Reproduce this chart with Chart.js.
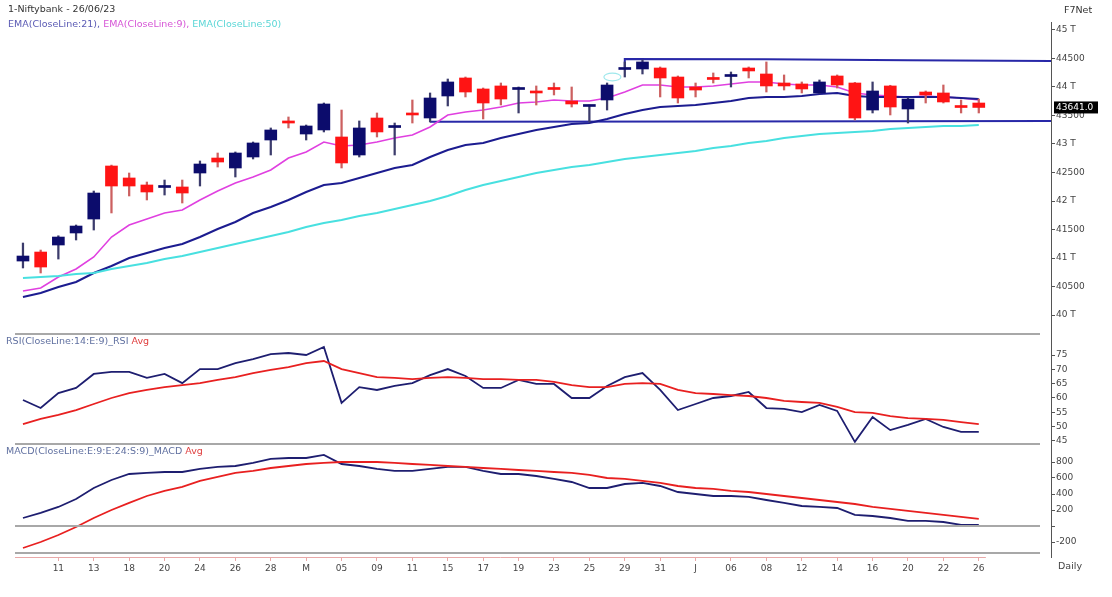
<!DOCTYPE html>
<html>
<head>
<meta charset="utf-8">
<script src="https://cdn.jsdelivr.net/npm/chart.js@4.4.0/dist/chart.umd.min.js"></script>
<style>
  body { margin: 0; background: #fff; width: 1112px; height: 597px; overflow: hidden; position: relative;
         font-family: "DejaVu Sans", Verdana, sans-serif; }
  canvas { position: absolute; left: 0; }
  .lbl { position: absolute; font-size: 9.5px; line-height: 12px; white-space: nowrap; }
</style>
</head>
<body>
<canvas id="price" width="1112" height="336" style="top:0"></canvas>
<canvas id="rsi" width="1112" height="111" style="top:334px"></canvas>
<canvas id="macd" width="1112" height="153" style="top:444px"></canvas>

<div class="lbl" style="left:8px;top:3px;color:#333">1-Niftybank - 26/06/23</div>
<div class="lbl" style="left:8px;top:18px"><span style="color:#5a5ab4">EMA(CloseLine:21), </span><span style="color:#d655d6">EMA(CloseLine:9), </span><span style="color:#5ad6d6">EMA(CloseLine:50)</span></div>
<div class="lbl" style="left:1064px;top:4px;color:#333">F7Net</div>
<div class="lbl" style="left:6px;top:335px"><span style="color:#6070a0">RSI(CloseLine:14:E:9)_RSI </span><span style="color:#e04040">Avg</span></div>
<div class="lbl" style="left:6px;top:445px"><span style="color:#6070a0">MACD(CloseLine:E:9:E:24:S:9)_MACD </span><span style="color:#e04040">Avg</span></div>
<div class="lbl" style="left:1058px;top:560px;color:#444">Daily</div>

<script>
// dates (display labels), April 6 -> June 26 2023
const dates = ['06','10','11','12','13','17','18','19','20','21','24','25','26','27','28',
  '02','M','04','05','08','09','10','11','12','15','16','17','18','19','22','23','24','25','26','29','30','31',
  '01','J','05','06','07','08','09','12','13','14','15','16','19','20','21','22','23','26'];

const opens  = [40947,41105,41228,41439,41684,42614,42404,42281,42237,42246,42491,42754,42579,42772,43070,43404,43175,43246,43123,42807,43456,43289,43544,43456,43842,44158,43965,44018,43956,43930,43974,43754,43658,43772,44307,44316,44333,44175,44000,44149,44184,44333,44228,44070,44053,43895,44193,44070,43596,44018,43614,43912,43895,43658,43719];
const highs  = [41263,41140,41390,41579,42175,42630,42491,42333,42368,42368,42702,42842,42860,43035,43281,43474,43333,43719,43596,43404,43544,43368,43772,43895,44140,44175,43982,44070,44000,44018,44070,44000,43684,44070,44439,44474,44351,44193,44070,44246,44263,44351,44439,44211,44088,44123,44211,44080,44088,44030,43807,43930,44035,43772,43789];
const lows   = [40825,40737,40982,41316,41491,41790,42088,42018,42105,41965,42263,42596,42421,42737,42807,43281,43070,43211,42579,42772,43123,42807,43368,43386,43667,43825,43439,43684,43544,43684,43860,43649,43386,43596,44175,44228,43825,43719,43825,44070,44000,44158,43912,43947,43895,43886,43982,43421,43544,43509,43368,43719,43719,43544,43544];
const closes = [41035,40842,41368,41561,42140,42263,42263,42158,42254,42140,42649,42684,42842,43018,43246,43368,43316,43702,42667,43281,43211,43307,43509,43807,44088,43912,43719,43789,43974,43895,43956,43702,43675,44035,44325,44439,44158,43807,43947,44132,44202,44281,44018,44018,43965,44088,44035,43456,43930,43649,43789,43860,43737,43640,43641];

const ema9  = [40421,40474,40667,40807,41018,41368,41579,41684,41789,41842,42018,42175,42316,42421,42544,42754,42860,43035,42965,42982,43035,43105,43158,43298,43509,43561,43596,43649,43719,43737,43772,43754,43754,43807,43912,44035,44035,44000,44000,44018,44053,44088,44088,44053,44035,44035,44000,43895,43860,43842,43825,43842,43825,43807,43772];
const ema21 = [40316,40386,40491,40579,40737,40860,41000,41088,41175,41246,41368,41509,41632,41789,41895,42018,42158,42281,42316,42404,42491,42579,42632,42772,42895,42982,43018,43105,43175,43246,43298,43351,43368,43439,43526,43596,43649,43667,43684,43719,43754,43807,43825,43825,43842,43877,43895,43842,43825,43825,43825,43825,43825,43807,43789];
const ema50 = [40649,40667,40684,40719,40737,40807,40860,40912,40982,41035,41105,41175,41246,41316,41386,41456,41544,41614,41667,41737,41789,41860,41930,42000,42088,42193,42281,42351,42421,42491,42544,42596,42632,42684,42737,42772,42807,42842,42877,42930,42965,43018,43053,43105,43140,43175,43193,43211,43228,43263,43281,43298,43316,43316,43333];

// drawn support / resistance lines (index, value)
const supportX = [23, 39, 58.1];
const supportY = [43390, 43395, 43405];
const resistX  = [34, 34, 42, 50, 58.1];
const resistY  = [44350, 44490, 44485, 44470, 44455];
// small drawn ellipse marker (index, value)
const markX = 33.3, markY = 44175;

const rsi    = [59.3,56.5,61.7,63.5,68.4,69.1,69.1,67.0,68.4,65.2,70.1,70.1,72.2,73.6,75.3,75.7,75.0,77.8,58.3,63.8,62.8,64.2,65.2,68.0,70.1,67.7,63.5,63.5,66.3,64.9,64.9,60.0,60.0,64.2,67.3,68.7,62.8,55.8,57.9,60.0,60.7,62.1,56.5,56.2,55.1,57.6,55.5,44.7,53.4,48.8,50.6,52.7,49.9,48.2,48.2];
const rsiAvg = [50.9,52.7,54.1,55.8,57.9,60.0,61.7,62.8,63.8,64.5,65.2,66.3,67.3,68.7,69.8,70.8,72.2,72.9,70.1,68.7,67.3,67.0,66.6,67.0,67.3,67.0,66.6,66.6,66.3,66.3,65.6,64.5,63.8,63.8,64.9,65.2,64.9,62.8,61.7,61.4,61.0,60.7,60.0,59.0,58.6,58.3,56.9,55.1,54.8,53.7,53.0,52.7,52.4,51.6,50.9];

const macd    = [100,163,238,338,475,575,650,663,675,675,713,738,750,788,838,850,850,888,775,750,713,688,688,713,738,738,688,650,650,625,588,550,475,475,525,538,500,425,400,375,375,363,325,288,250,238,225,138,125,100,63,63,50,13,13];
const macdAvg = [-275,-200,-113,-13,100,200,288,375,438,488,563,613,663,688,725,750,775,788,800,800,800,788,775,763,750,738,725,713,700,688,675,663,638,600,588,563,538,500,475,463,438,425,400,375,350,325,300,275,238,213,188,163,138,113,88];

const priceTicks = [40000,40500,41000,41500,42000,42500,43000,43500,44000,44500,45000];
const rsiTicks = [45,50,55,60,65,70,75];
const macdTicks = [-200,0,200,400,600,800];

Chart.defaults.font.family = '"DejaVu Sans", Verdana, sans-serif';

const X_MIN = -0.45, X_MAX = 58.08;
const NAVY = '#0c0c6c', RED = '#ff1414';

function xy(xs, ys) { return xs.map((x, i) => ({ x: x, y: ys[i] })); }
function series(vals) { return vals.map((v, i) => ({ x: i, y: v })); }

function rightAxis(min, max, ticks, fmt) {
    return {
        type: 'linear', position: 'right', min: min, max: max,
        afterFit: s => { s.width = 61; s.paddingTop = 0; s.paddingBottom = 0; },
        afterBuildTicks: s => { s.ticks = ticks.map(v => ({ value: v })); },
        grid: { display: true, drawOnChartArea: false, drawTicks: true, tickLength: 4, color: '#555' },
        border: { display: true, color: '#555', width: 1 },
        ticks: { font: { size: 9 }, color: '#444', padding: 1, callback: v => fmt(v) }
    };
}

function hiddenX() {
    return { type: 'linear', min: X_MIN, max: X_MAX, offset: false, display: false };
}

// grey panel separators
function separators(getYs) {
    return {
        id: 'sep',
        afterDraw(chart) {
            const ctx = chart.ctx;
            ctx.save();
            ctx.strokeStyle = '#a8a8a8';
            ctx.lineWidth = 2;
            getYs(chart).forEach(y => {
                ctx.beginPath();
                ctx.moveTo(chart.chartArea.left, y);
                ctx.lineTo(1040, y);
                ctx.stroke();
            });
            ctx.restore();
        }
    };
}

function lineDs(data, color, width) {
    return { type: 'line', data: data, borderColor: color, borderWidth: width, pointRadius: 0,
             tension: 0, fill: false, order: 5 };
}

const baseOptions = (padding, scales) => ({
    responsive: false, animation: false, devicePixelRatio: 1,
    layout: { padding: padding },
    plugins: { legend: { display: false }, tooltip: { enabled: false } },
    scales: scales
});

// ---------- price panel ----------
const upCandle = closes.map((c, i) => c >= opens[i]);

const lastPriceTag = {
    id: 'lastPrice',
    afterDraw(chart) {
        const ctx = chart.ctx;
        const last = closes[closes.length - 1];
        const y = chart.scales.y.getPixelForValue(last);
        ctx.save();
        ctx.fillStyle = '#000';
        ctx.fillRect(1054, y - 6, 44, 12);
        ctx.fillStyle = '#fff';
        ctx.font = '9px "DejaVu Sans"';
        ctx.textBaseline = 'middle';
        ctx.fillText(last.toFixed(1), 1056, y + 0.5);
        ctx.restore();
    }
};

const ellipseMark = {
    id: 'ellipseMark',
    afterDatasetsDraw(chart) {
        const ctx = chart.ctx;
        const cx = chart.scales.x.getPixelForValue(markX);
        const cy = chart.scales.y.getPixelForValue(markY);
        ctx.save();
        ctx.strokeStyle = '#9fe8ec';
        ctx.lineWidth = 1.2;
        ctx.beginPath();
        ctx.ellipse(cx, cy, 8.5, 3.8, 0, 0, Math.PI * 2);
        ctx.stroke();
        ctx.restore();
    }
};

new Chart(document.getElementById('price'), {
    type: 'bar',
    data: {
        datasets: [
            lineDs(series(ema50), '#48e0e0', 2),
            lineDs(series(ema21), '#1c1c90', 2),
            lineDs(series(ema9), '#e040e0', 1.6),
            lineDs(xy(supportX, supportY), '#2828a8', 2),
            lineDs(xy(resistX, resistY), '#2828a8', 2),
            {
                data: lows.map((l, i) => ({ x: i, y: [l, highs[i]] })),
                backgroundColor: upCandle.map(u => u ? '#3c3c6c' : '#cc6060'),
                barThickness: 1.6, grouped: false, order: 4
            },
            {
                data: opens.map((o, i) => ({ x: i, y: [o, closes[i]] })),
                backgroundColor: upCandle.map(u => u ? NAVY : RED),
                barThickness: 12, minBarLength: 2, grouped: false, order: 3
            }
        ]
    },
    options: baseOptions({ top: 22, bottom: 2, left: 15, right: 0 }, {
        x: hiddenX(),
        y: rightAxis(39667, 45140, priceTicks, v => v % 1000 === 0 ? (v / 1000) + ' T' : String(v))
    }),
    plugins: [separators(c => [c.chartArea.bottom]), lastPriceTag, ellipseMark]
});

// ---------- RSI panel ----------
new Chart(document.getElementById('rsi'), {
    type: 'line',
    data: {
        datasets: [
            lineDs(series(rsiAvg), '#e82020', 1.8),
            lineDs(series(rsi), '#1e1e70', 1.8)
        ]
    },
    options: baseOptions({ top: 1, bottom: 1, left: 15, right: 0 }, {
        x: hiddenX(),
        y: rightAxis(43.95, 81.98, rsiTicks, v => String(v))
    }),
    plugins: [separators(c => [c.chartArea.bottom])]
});

// ---------- MACD panel + date axis ----------
const tickIdx = dates.map((d, i) => i).filter(i => i >= 2 && i % 2 === 0);

const dateAxisLine = {
    id: 'dateLine',
    afterDraw(chart) {
        const ctx = chart.ctx, x = chart.scales.x;
        ctx.save();
        ctx.strokeStyle = '#e8a8a8';
        ctx.lineWidth = 1;
        ctx.beginPath();
        ctx.moveTo(chart.chartArea.left, chart.chartArea.bottom + 0.5);
        ctx.lineTo(x.getPixelForValue(dates.length - 0.6), chart.chartArea.bottom + 0.5);
        ctx.stroke();
        ctx.restore();
    }
};

new Chart(document.getElementById('macd'), {
    type: 'line',
    data: {
        datasets: [
            lineDs(series(macdAvg), '#e82020', 1.8),
            lineDs(series(macd), '#1e1e70', 1.8)
        ]
    },
    options: baseOptions({ top: 1, bottom: 0, left: 15, right: 0 }, {
        x: {
            type: 'linear', min: X_MIN, max: X_MAX, offset: false, position: 'bottom',
            afterFit: s => { s.height = 40; s.paddingLeft = 0; s.paddingRight = 0; },
            afterBuildTicks: s => { s.ticks = tickIdx.map(v => ({ value: v })); },
            grid: { display: true, drawOnChartArea: false, drawTicks: true, tickLength: 4, color: '#e8a8a8' },
            border: { display: false },
            ticks: { font: { size: 9 }, color: '#444', padding: 2, maxRotation: 0, autoSkip: false,
                     callback: v => dates[v] }
        },
        y: rightAxis(-387.5, 1012.5, macdTicks, v => v === 0 ? '' : String(v))
    }),
    plugins: [separators(c => [c.scales.y.getPixelForValue(0), c.scales.y.getPixelForValue(-337)]), dateAxisLine]
});
</script>
</body>
</html>
